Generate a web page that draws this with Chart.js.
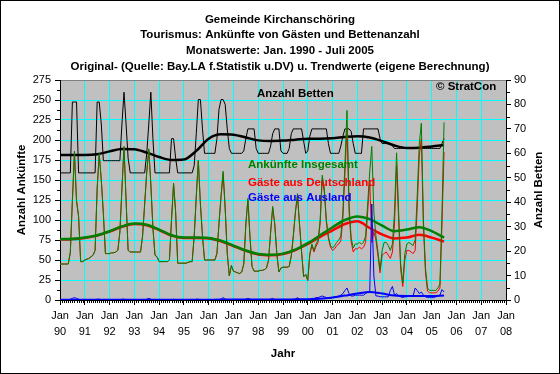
<!DOCTYPE html>
<html>
<head>
<meta charset="utf-8">
<script src="https://cdn.jsdelivr.net/npm/chart.js@4.4.1/dist/chart.umd.min.js"></script>
<style>
  html, body { margin: 0; padding: 0; background: #fff; }
  canvas { display: block; }
</style>
</head>
<body>
<canvas id="chart" width="560" height="374"></canvas>
<script>
// Monatswerte Jan 1990 - Jul 2005 (je Zeile ein Jahr)
const START_YEAR = 1990;
const AXIS_MONTHS = 216;      // Jan 90 .. Jan 08
const TREND_STEP = 6;         // Trendwerte halbjährlich

const ankuenfte = [
  45, 45, 45, 45, 45, 60, 125, 186, 125, 105, 48, 48,
  50, 51, 52, 54, 56, 62, 140, 183, 150, 108, 58, 58,
  58, 59, 59, 60, 62, 85, 140, 192, 125, 62, 60, 60,
  60, 60, 60, 60, 80, 120, 160, 189, 145, 90, 56, 54,
  48, 48, 48, 48, 48, 50, 100, 146, 110, 46, 46, 46,
  46, 46, 47, 48, 48, 80, 130, 175, 120, 80, 50, 50,
  50, 50, 50, 50, 58, 96, 130, 161, 115, 58, 30, 43,
  36, 35, 34, 33, 35, 45, 95, 127, 80, 42, 36, 36,
  36, 37, 37, 38, 40, 50, 85, 117, 95, 58, 35, 40,
  41, 41, 41, 42, 55, 80, 110, 133, 95, 60, 29, 32,
  25, 58, 70, 62, 70, 75, 100, 156, 140, 100, 79, 68,
  65, 68, 72, 75, 80, 110, 170, 237, 120, 78, 65, 70,
  70, 72, 70, 72, 80, 120, 160, 192, 110, 80, 60, 38,
  62, 72, 72, 68, 62, 70, 110, 184, 110, 45, 21, 58,
  70, 72, 70, 68, 75, 130, 195, 221, 100, 40, 15, 12,
  12, 12, 12, 15, 20, 110, 222
];

const deutschland = [
  45, 45, 45, 45, 45, 59, 123, 183, 123, 104, 48, 48,
  50, 51, 52, 54, 56, 62, 139, 182, 150, 108, 58, 58,
  58, 59, 59, 60, 62, 85, 139, 191, 125, 62, 60, 60,
  60, 60, 60, 60, 80, 120, 159, 187, 144, 90, 56, 54,
  48, 48, 48, 48, 48, 50, 100, 145, 110, 46, 46, 46,
  46, 46, 47, 48, 48, 80, 129, 174, 120, 80, 50, 50,
  50, 50, 50, 50, 58, 96, 129, 158, 114, 58, 30, 43,
  36, 35, 34, 33, 35, 45, 94, 125, 79, 42, 36, 36,
  36, 37, 37, 38, 40, 50, 84, 115, 95, 58, 35, 40,
  41, 41, 41, 42, 55, 80, 109, 130, 94, 60, 29, 32,
  24, 57, 68, 60, 67, 72, 96, 151, 135, 97, 77, 66,
  62, 64, 68, 70, 74, 102, 158, 215, 110, 73, 60, 64,
  64, 66, 64, 66, 72, 110, 150, 72, 85, 75, 55, 34,
  56, 58, 60, 56, 52, 60, 95, 168, 100, 38, 17, 50,
  62, 62, 60, 58, 62, 115, 180, 202, 92, 34, 11, 9,
  9, 9, 9, 11, 15, 95, 185
];

const ausland = [
  0, 0, 0, 0, 0, 1, 2, 3, 2, 1, 0, 0,
  0, 0, 0, 0, 0, 0, 1, 1, 0, 0, 0, 0,
  0, 0, 0, 0, 0, 0, 1, 1, 0, 0, 0, 0,
  0, 0, 0, 0, 0, 0, 1, 2, 1, 0, 0, 0,
  0, 0, 0, 0, 0, 0, 0, 1, 0, 0, 0, 0,
  0, 0, 0, 0, 0, 0, 1, 1, 0, 0, 0, 0,
  0, 0, 0, 0, 0, 0, 1, 3, 1, 0, 0, 0,
  0, 0, 0, 0, 0, 0, 1, 2, 1, 0, 0, 0,
  0, 0, 0, 0, 0, 0, 1, 2, 0, 0, 0, 0,
  0, 0, 0, 0, 0, 0, 1, 3, 1, 0, 0, 0,
  1, 1, 2, 2, 3, 3, 4, 5, 4, 3, 2, 2,
  3, 4, 4, 5, 6, 8, 12, 15, 8, 5, 5, 6,
  6, 6, 6, 6, 8, 10, 10, 120, 30, 5, 5, 4,
  4, 4, 4, 4, 12, 17, 6, 8, 5, 4, 3, 4,
  4, 5, 5, 5, 15, 12, 8, 10, 6, 4, 3, 3,
  3, 3, 4, 5, 6, 13, 10
];

// Anzahl Betten (rechte Achse)
const betten = [
  52, 52, 52, 52, 52, 52, 81, 81, 81, 52, 52, 52,
  52, 52, 52, 52, 52, 52, 81, 81, 72, 57, 57, 57,
  57, 57, 57, 57, 57, 57, 72, 85, 72, 58, 52, 52,
  52, 52, 52, 52, 52, 52, 60, 72, 85, 66, 52, 52,
  52, 52, 52, 52, 52, 52, 66, 66, 58, 52, 52, 52,
  52, 52, 52, 52, 52, 55, 68, 82, 82, 70, 60, 60,
  60, 60, 60, 60, 66, 78, 82, 82, 80, 70, 62, 60,
  60, 60, 60, 60, 60, 61, 66, 70, 70, 70, 70, 62,
  60, 60, 60, 60, 60, 60, 63, 68, 70, 70, 70, 61,
  60, 60, 60, 62, 68, 70, 70, 70, 70, 70, 65, 60,
  61, 67, 70, 70, 70, 70, 70, 70, 70, 70, 64, 60,
  60, 60, 60, 60, 63, 67, 70, 70, 70, 69, 64, 60,
  60, 60, 60, 70, 70, 70, 70, 70, 70, 70, 70, 66,
  64, 64, 64, 64, 64, 63, 62, 62, 62, 62, 62, 62,
  62, 62, 62, 62, 62, 62, 62, 62, 62, 62, 62, 62,
  62, 62, 62, 62, 62, 64, 66
];

// Trendwerte, halbjährlich (Jan / Jul)
const ankuenfteTrend = [76, 76.5, 78, 81, 86, 92, 95.5, 94, 88, 81, 78, 78, 77.5, 74, 68, 62,
  57.5, 56.5, 58, 63, 71, 81, 91, 100, 104.5, 101, 93, 86, 88, 91, 86, 78];
const deutschlandTrend = [75.5, 76, 77.5, 80.5, 85.5, 91.5, 95, 93.5, 87.5, 80.5, 77.5, 77.5, 77, 73.5, 67.5, 61.5,
  57, 56, 57.5, 62.5, 70, 79, 87, 95, 98.5, 90, 82, 77, 78, 81.5, 78, 73];
const auslandTrend = [0.3, 0.3, 0.3, 0.3, 0.3, 0.3, 0.3, 0.3, 0.3, 0.3, 0.3, 0.3, 0.4, 0.5, 0.5, 0.5,
  0.5, 0.5, 0.6, 0.8, 1, 1.5, 3, 5.5, 8, 10, 8, 5.5, 5, 5, 5, 5.5];
const bettenTrend = [59.3, 59.3, 59.3, 59.6, 60.8, 61.8, 61.7, 60.3, 58.5, 57.3, 57.5, 61, 66, 67.8, 67.6, 66.5,
  65.3, 65, 65.2, 65.6, 66, 66, 66.2, 66.7, 67, 66.5, 65, 63.2, 62.2, 62.3, 62.8, 63.4];

const titleLines = [
  'Gemeinde Kirchanschöring',
  'Tourismus: Ankünfte von Gästen und Bettenanzahl',
  'Monatswerte: Jan. 1990 - Juli 2005',
  'Original- (Quelle: Bay.LA f.Statistik u.DV) u. Trendwerte (eigene Berechnung)'
];

const FONT = '"Liberation Sans", Arial, sans-serif';
Chart.defaults.font.family = FONT;
Chart.defaults.font.size = 11;
Chart.defaults.color = '#000';

const monthly = vals => vals.map((v, i) => ({ x: i, y: v }));
const halfYearly = vals => vals.map((v, i) => ({ x: i * TREND_STEP, y: v }));

function label(ctx, str, x, y, color, align = 'left', rot = 0) {
    ctx.save();
    ctx.font = 'bold 11.5px ' + FONT;
    ctx.fillStyle = color;
    ctx.textAlign = align;
    ctx.textBaseline = 'middle';
    ctx.translate(x, y);
    if (rot) ctx.rotate(rot);
    ctx.fillText(str, 0, 0);
    ctx.restore();
}

const decor = {
    id: 'decor',
    beforeDraw(chart) {
        const { ctx, chartArea: a } = chart;
        ctx.save();
        ctx.fillStyle = '#fff';
        ctx.fillRect(0, 0, chart.width, chart.height);
        ctx.fillStyle = '#c0c0c0';
        ctx.fillRect(a.left, a.top, a.right - a.left, a.bottom - a.top);
        ctx.restore();
    },
    beforeDatasetsDraw(chart) {
        const { ctx, chartArea: a, scales } = chart;
        ctx.save();
        ctx.lineWidth = 1;
        // top frame
        ctx.strokeStyle = '#808080';
        ctx.beginPath();
        ctx.moveTo(a.left, a.top + 0.5);
        ctx.lineTo(a.right, a.top + 0.5);
        ctx.stroke();
        // axis lines + minor ticks
        ctx.strokeStyle = '#000';
        ctx.beginPath();
        ctx.moveTo(a.left + 0.5, a.top);
        ctx.lineTo(a.left + 0.5, a.bottom + 1);
        ctx.moveTo(a.right + 0.5, a.top);
        ctx.lineTo(a.right + 0.5, a.bottom + 1);
        ctx.moveTo(a.left, a.bottom + 0.5);
        ctx.lineTo(a.right + 1, a.bottom + 0.5);
        for (let m = 1; m < AXIS_MONTHS; m++) {
            if (m % 12 === 0) continue;
            const px = Math.round(scales.x.getPixelForValue(m)) + 0.5;
            ctx.moveTo(px, a.bottom);
            ctx.lineTo(px, a.bottom + 3);
        }
        for (let v = 12.5; v < 275; v += 25) {
            const py = Math.round(scales.y.getPixelForValue(v)) + 0.5;
            ctx.moveTo(a.left - 3, py);
            ctx.lineTo(a.left, py);
        }
        for (let v = 5; v < 90; v += 10) {
            const py = Math.round(scales.y1.getPixelForValue(v)) + 0.5;
            ctx.moveTo(a.right + 1, py);
            ctx.lineTo(a.right + 4, py);
        }
        ctx.stroke();
        ctx.restore();
    },
    afterDraw(chart) {
        const ctx = chart.ctx;
        titleLines.forEach((t, i) => label(ctx, t, 280, 19.5 + i * 15.8, '#000', 'center'));
        label(ctx, 'Anzahl Ankünfte', 22, 190, '#000', 'center', -Math.PI / 2);
        label(ctx, 'Anzahl Betten', 539, 190, '#000', 'center', -Math.PI / 2);
        label(ctx, 'Jahr', 283, 354, '#000', 'center');

        label(ctx, 'Anzahl Betten', 257, 94, '#000');
        label(ctx, '© StratCon', 436, 87, '#000');
        label(ctx, 'Ankünfte Insgesamt', 248, 165, '#008000');
        label(ctx, 'Gäste aus Deutschland', 248, 183, '#ff0000');
        label(ctx, 'Gäste aus Ausland', 248, 198, '#0000ff');

        // outer frame
        ctx.save();
        ctx.strokeStyle = '#000';
        ctx.lineWidth = 1;
        ctx.strokeRect(0.5, 0.5, chart.width - 1, chart.height - 1);
        ctx.restore();
    }
};

const line = (data, color, width, order, extra = {}) => Object.assign({
    data,
    borderColor: color,
    borderWidth: width,
    pointRadius: 0,
    fill: false,
    tension: 0,
    order
}, extra);

new Chart(document.getElementById('chart'), {
    type: 'line',
    data: {
        datasets: [
            line(monthly(ausland), '#0000ff', 1, 1),
            line(halfYearly(auslandTrend), '#0000ff', 2, 2, { cubicInterpolationMode: 'monotone' }),
            line(monthly(ankuenfte), '#008000', 1, 3),
            line(halfYearly(ankuenfteTrend), '#008000', 2.5, 4, { cubicInterpolationMode: 'monotone' }),
            line(monthly(deutschland), '#ff0000', 1, 5),
            line(halfYearly(deutschlandTrend), '#ff0000', 2.5, 6, { cubicInterpolationMode: 'monotone' }),
            line(halfYearly(bettenTrend), '#000000', 2.5, 7, { yAxisID: 'y1', cubicInterpolationMode: 'monotone' }),
            line(monthly(betten), '#000000', 1, 8, { yAxisID: 'y1' })
        ]
    },
    options: {
        responsive: false,
        animation: false,
        devicePixelRatio: 1,
        layout: { padding: { top: 80, left: 0, right: 0, bottom: 0 } },
        plugins: {
            legend: { display: false },
            tooltip: { enabled: false }
        },
        scales: {
            x: {
                type: 'linear',
                min: 0,
                max: AXIS_MONTHS,
                afterFit: s => { s.height = 74; },
                border: { display: false },
                grid: { color: '#00ffff', tickColor: '#000', tickLength: 5 },
                ticks: {
                    stepSize: 12,
                    autoSkip: false,
                    maxRotation: 0,
                    padding: 3,
                    font: { size: 11, lineHeight: 1.45 },
                    callback: v => ['Jan', String((START_YEAR + v / 12) % 100).padStart(2, '0')]
                }
            },
            y: {
                position: 'left',
                min: 0,
                max: 275,
                afterFit: s => { s.width = 60; },
                border: { display: false },
                grid: { color: '#00ffff', tickColor: '#000', tickLength: 5 },
                ticks: { stepSize: 25, padding: 4 }
            },
            y1: {
                position: 'right',
                min: 0,
                max: 90,
                afterFit: s => { s.width = 54; },
                border: { display: false },
                grid: { drawOnChartArea: false, tickColor: '#000', tickLength: 5 },
                ticks: { stepSize: 10, padding: 3 }
            }
        }
    },
    plugins: [decor]
});
</script>
</body>
</html>
